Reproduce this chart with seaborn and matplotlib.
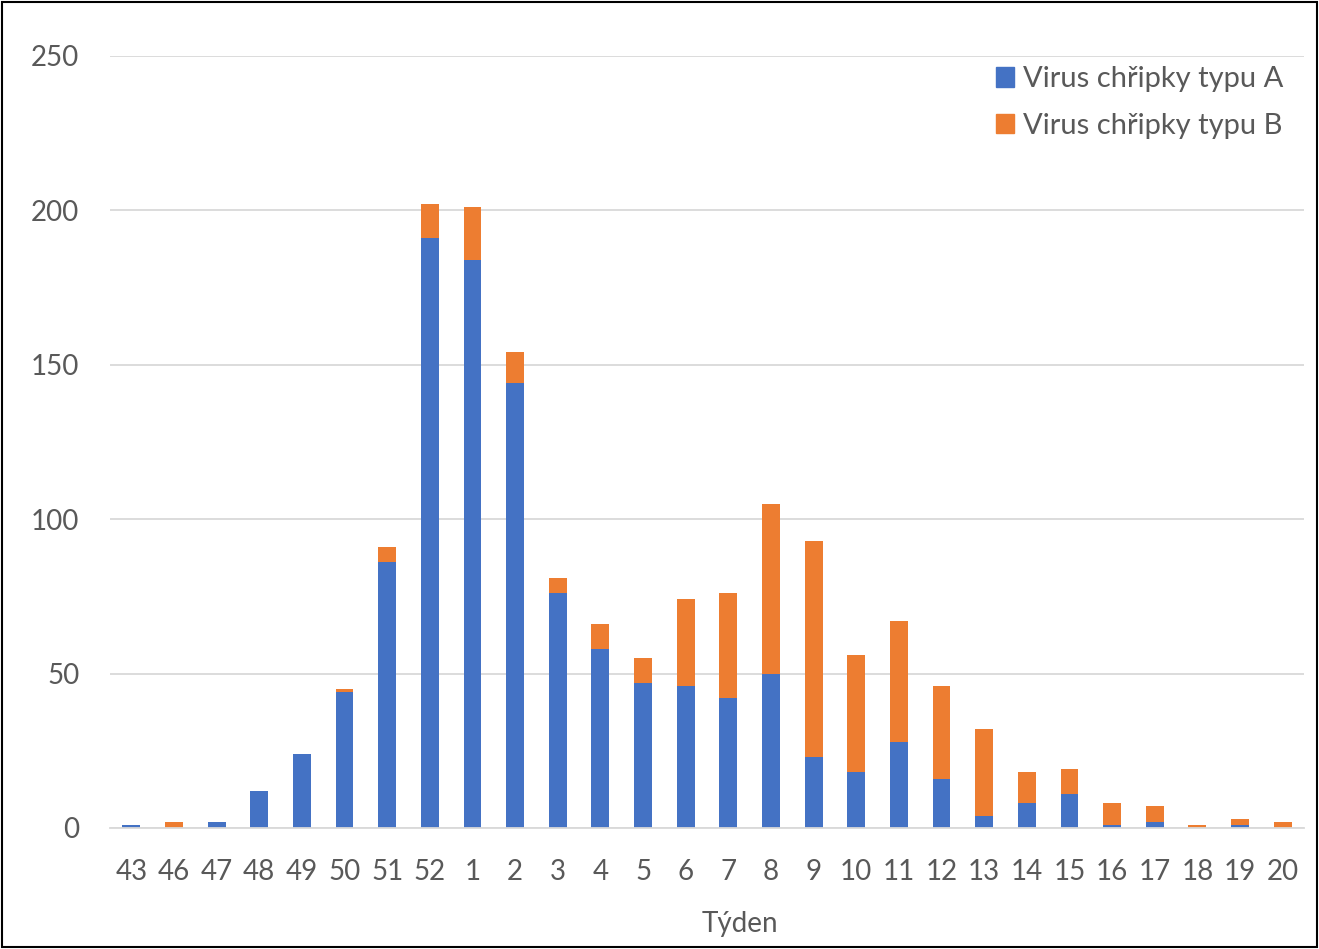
import matplotlib
matplotlib.use("Agg")
import matplotlib.pyplot as plt
import seaborn as sns
import pandas as pd
from matplotlib.patches import Rectangle, Patch

# weeks of the season and positive samples per virus type
weeks = ["43", "46", "47", "48", "49", "50", "51", "52", "1", "2", "3", "4", "5",
         "6", "7", "8", "9", "10", "11", "12", "13", "14", "15", "16", "17", "18", "19", "20"]
typ_a = [1, 0, 2, 12, 24, 44, 86, 191, 184, 144, 76, 58, 47,
         46, 42, 50, 23, 18, 28, 16, 4, 8, 11, 1, 2, 0, 1, 0]
typ_b = [0, 2, 0, 0, 0, 1, 5, 11, 17, 10, 5, 8, 8,
         28, 34, 55, 70, 38, 39, 30, 28, 10, 8, 7, 5, 1, 2, 2]

df = pd.DataFrame({"tyden": weeks, "A": typ_a, "B": typ_b})
df["total"] = df["A"] + df["B"]

blue = "#4472C4"
orange = "#ED7D31"
grey = "#595959"

sns.set_style("white")
plt.rcParams["font.family"] = ["Lato", "DejaVu Sans"]

fig = plt.figure(figsize=(13.19, 9.49), dpi=100)
ax = fig.add_axes([110 / 1319, 1 - 828 / 949, 1194 / 1319, (828 - 56) / 949])

sns.barplot(data=df, x="tyden", y="total", order=weeks, color=orange,
            width=0.42, saturation=1, linewidth=0, ax=ax)
sns.barplot(data=df, x="tyden", y="A", order=weeks, color=blue,
            width=0.42, saturation=1, linewidth=0, ax=ax)

ax.set_ylim(0, 250)
ax.set_yticks(range(0, 251, 50))
ax.set_xlim(-0.5, len(weeks) - 0.5)
ax.yaxis.grid(True, color="#d9d9d9", linewidth=1.3)
ax.set_axisbelow(True)
for s in ["top", "right", "left"]:
    ax.spines[s].set_visible(False)
ax.spines["bottom"].set_color("#d9d9d9")
ax.spines["bottom"].set_linewidth(1.3)
ax.tick_params(axis="y", length=0, pad=22, labelsize=20, labelcolor=grey)
ax.tick_params(axis="x", length=0, pad=22, labelsize=20, labelcolor=grey)
ax.set_ylabel("")
ax.set_xlabel("Týden", fontsize=20, color=grey)
ax.xaxis.set_label_coords(0.528, -0.108)

handles = [Patch(color=blue, label="Virus chřipky typu A"),
           Patch(color=orange, label="Virus chřipky typu B")]
ax.legend(handles=handles, loc="upper right", bbox_to_anchor=(1.0, 1.013),
          frameon=False, fontsize=21, labelcolor=grey, handlelength=0.65,
          handleheight=0.65, handletextpad=0.3, labelspacing=0.7, borderpad=0.2)

fig.patches.append(Rectangle((0.0015, 0.002), 0.997, 0.996, transform=fig.transFigure,
                             fill=False, edgecolor="black", linewidth=1.5))

fig.savefig("out.png", dpi=100)
